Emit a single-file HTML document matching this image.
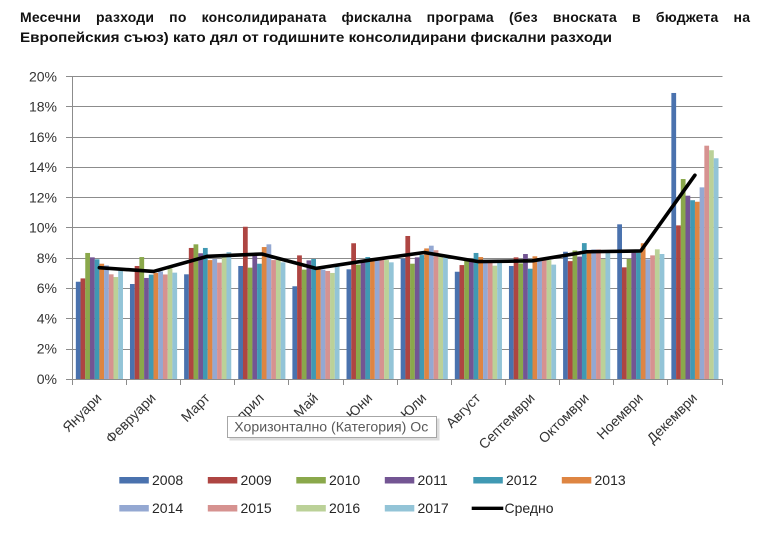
<!DOCTYPE html>
<html>
<head>
<meta charset="utf-8">
<style>
html,body{margin:0;padding:0;background:#fff;}
svg{display:block;}
.a{fill:#4A72AE}.b{fill:#AE4542}.c{fill:#8AA84B}.d{fill:#735593}.e{fill:#4099B3}
.f{fill:#DE8542}.g{fill:#94A8D2}.h{fill:#D69290}.i{fill:#BBD198}.j{fill:#93C4D7}
text{font-family:"Liberation Sans","DejaVu Sans",sans-serif;}
.ax{font-size:14px;fill:#333;}
.lg{font-size:14px;fill:#262626;}
</style>
</head>
<body>
<svg width="768" height="537" viewBox="0 0 768 537" xmlns="http://www.w3.org/2000/svg">
<rect x="0" y="0" width="768" height="537" fill="#fff"/>
<!-- Title -->
<text x="20" y="22" font-size="14" font-weight="bold" fill="#111" word-spacing="11" textLength="730" lengthAdjust="spacing">Месечни разходи по консолидираната фискална програма (без вноската в бюджета на</text>
<text x="20" y="42" font-size="14" font-weight="bold" fill="#111" textLength="592" lengthAdjust="spacingAndGlyphs">Европейския съюз) като дял от годишните консолидирани фискални разходи</text>

<!-- Gridlines -->
<g stroke="#8c8c8c" stroke-width="1" shape-rendering="crispEdges">
<line x1="66" y1="76.5" x2="722.5" y2="76.5"/>
<line x1="66" y1="106.5" x2="722.5" y2="106.5"/>
<line x1="66" y1="137.5" x2="722.5" y2="137.5"/>
<line x1="66" y1="167.5" x2="722.5" y2="167.5"/>
<line x1="66" y1="197.5" x2="722.5" y2="197.5"/>
<line x1="66" y1="227.5" x2="722.5" y2="227.5"/>
<line x1="66" y1="258.5" x2="722.5" y2="258.5"/>
<line x1="66" y1="288.5" x2="722.5" y2="288.5"/>
<line x1="66" y1="318.5" x2="722.5" y2="318.5"/>
<line x1="66" y1="349.5" x2="722.5" y2="349.5"/>
</g>

<!-- Y labels -->
<g class="ax" text-anchor="end">
<text x="57" y="81.5">20%</text>
<text x="57" y="111.5">18%</text>
<text x="57" y="142">16%</text>
<text x="57" y="172">14%</text>
<text x="57" y="202.5">12%</text>
<text x="57" y="232.5">10%</text>
<text x="57" y="263">8%</text>
<text x="57" y="293">6%</text>
<text x="57" y="323.5">4%</text>
<text x="57" y="353.5">2%</text>
<text x="57" y="384">0%</text>
</g>

<!-- Bars -->
<g transform="translate(75.83,379) scale(1,-15.15)">
<rect class="a" x="0" y="0" width="4.76" height="6.42"/><rect class="b" x="4.71" y="0" width="4.76" height="6.64"/><rect class="c" x="9.42" y="0" width="4.76" height="8.32"/><rect class="d" x="14.13" y="0" width="4.76" height="8.03"/><rect class="e" x="18.84" y="0" width="4.76" height="7.9"/><rect class="f" x="23.55" y="0" width="4.76" height="7.61"/><rect class="g" x="28.26" y="0" width="4.76" height="7.5"/><rect class="h" x="32.97" y="0" width="4.76" height="6.91"/><rect class="i" x="37.68" y="0" width="4.76" height="6.73"/><rect class="j" x="42.39" y="0" width="4.76" height="7.15"/>
</g>
<g transform="translate(129.97,379) scale(1,-15.15)">
<rect class="a" x="0" y="0" width="4.76" height="6.27"/><rect class="b" x="4.71" y="0" width="4.76" height="7.46"/><rect class="c" x="9.42" y="0" width="4.76" height="8.05"/><rect class="d" x="14.13" y="0" width="4.76" height="6.67"/><rect class="e" x="18.84" y="0" width="4.76" height="6.89"/><rect class="f" x="23.55" y="0" width="4.76" height="7.0"/><rect class="g" x="28.26" y="0" width="4.76" height="7.1"/><rect class="h" x="32.97" y="0" width="4.76" height="6.9"/><rect class="i" x="37.68" y="0" width="4.76" height="7.3"/><rect class="j" x="42.39" y="0" width="4.76" height="7.02"/>
</g>
<g transform="translate(184.11,379) scale(1,-15.15)">
<rect class="a" x="0" y="0" width="4.76" height="6.91"/><rect class="b" x="4.71" y="0" width="4.76" height="8.65"/><rect class="c" x="9.42" y="0" width="4.76" height="8.89"/><rect class="d" x="14.13" y="0" width="4.76" height="8.3"/><rect class="e" x="18.84" y="0" width="4.76" height="8.65"/><rect class="f" x="23.55" y="0" width="4.76" height="7.85"/><rect class="g" x="28.26" y="0" width="4.76" height="7.92"/><rect class="h" x="32.97" y="0" width="4.76" height="7.68"/><rect class="i" x="37.68" y="0" width="4.76" height="8.07"/><rect class="j" x="42.39" y="0" width="4.76" height="8.38"/>
</g>
<g transform="translate(238.25,379) scale(1,-15.15)">
<rect class="a" x="0" y="0" width="4.76" height="7.46"/><rect class="b" x="4.71" y="0" width="4.76" height="10.05"/><rect class="c" x="9.42" y="0" width="4.76" height="7.35"/><rect class="d" x="14.13" y="0" width="4.76" height="8.3"/><rect class="e" x="18.84" y="0" width="4.76" height="7.61"/><rect class="f" x="23.55" y="0" width="4.76" height="8.71"/><rect class="g" x="28.26" y="0" width="4.76" height="8.89"/><rect class="h" x="32.97" y="0" width="4.76" height="7.85"/><rect class="i" x="37.68" y="0" width="4.76" height="7.97"/><rect class="j" x="42.39" y="0" width="4.76" height="7.7"/>
</g>
<g transform="translate(292.39,379) scale(1,-15.15)">
<rect class="a" x="0" y="0" width="4.76" height="6.12"/><rect class="b" x="4.71" y="0" width="4.76" height="8.16"/><rect class="c" x="9.42" y="0" width="4.76" height="7.22"/><rect class="d" x="14.13" y="0" width="4.76" height="7.83"/><rect class="e" x="18.84" y="0" width="4.76" height="7.92"/><rect class="f" x="23.55" y="0" width="4.76" height="7.26"/><rect class="g" x="28.26" y="0" width="4.76" height="7.22"/><rect class="h" x="32.97" y="0" width="4.76" height="7.13"/><rect class="i" x="37.68" y="0" width="4.76" height="7.0"/><rect class="j" x="42.39" y="0" width="4.76" height="7.44"/>
</g>
<g transform="translate(346.53,379) scale(1,-15.15)">
<rect class="a" x="0" y="0" width="4.76" height="7.24"/><rect class="b" x="4.71" y="0" width="4.76" height="8.96"/><rect class="c" x="9.42" y="0" width="4.76" height="7.55"/><rect class="d" x="14.13" y="0" width="4.76" height="7.79"/><rect class="e" x="18.84" y="0" width="4.76" height="8.05"/><rect class="f" x="23.55" y="0" width="4.76" height="7.9"/><rect class="g" x="28.26" y="0" width="4.76" height="7.9"/><rect class="h" x="32.97" y="0" width="4.76" height="7.9"/><rect class="i" x="37.68" y="0" width="4.76" height="7.85"/><rect class="j" x="42.39" y="0" width="4.76" height="7.7"/>
</g>
<g transform="translate(400.67,379) scale(1,-15.15)">
<rect class="a" x="0" y="0" width="4.76" height="7.94"/><rect class="b" x="4.71" y="0" width="4.76" height="9.44"/><rect class="c" x="9.42" y="0" width="4.76" height="7.61"/><rect class="d" x="14.13" y="0" width="4.76" height="8.03"/><rect class="e" x="18.84" y="0" width="4.76" height="8.18"/><rect class="f" x="23.55" y="0" width="4.76" height="8.62"/><rect class="g" x="28.26" y="0" width="4.76" height="8.8"/><rect class="h" x="32.97" y="0" width="4.76" height="8.5"/><rect class="i" x="37.68" y="0" width="4.76" height="8.1"/><rect class="j" x="42.39" y="0" width="4.76" height="8.0"/>
</g>
<g transform="translate(454.81,379) scale(1,-15.15)">
<rect class="a" x="0" y="0" width="4.76" height="7.08"/><rect class="b" x="4.71" y="0" width="4.76" height="7.52"/><rect class="c" x="9.42" y="0" width="4.76" height="7.81"/><rect class="d" x="14.13" y="0" width="4.76" height="7.9"/><rect class="e" x="18.84" y="0" width="4.76" height="8.32"/><rect class="f" x="23.55" y="0" width="4.76" height="8.05"/><rect class="g" x="28.26" y="0" width="4.76" height="7.74"/><rect class="h" x="32.97" y="0" width="4.76" height="7.74"/><rect class="i" x="37.68" y="0" width="4.76" height="7.48"/><rect class="j" x="42.39" y="0" width="4.76" height="7.74"/>
</g>
<g transform="translate(508.95,379) scale(1,-15.15)">
<rect class="a" x="0" y="0" width="4.76" height="7.46"/><rect class="b" x="4.71" y="0" width="4.76" height="8.03"/><rect class="c" x="9.42" y="0" width="4.76" height="7.63"/><rect class="d" x="14.13" y="0" width="4.76" height="8.25"/><rect class="e" x="18.84" y="0" width="4.76" height="7.28"/><rect class="f" x="23.55" y="0" width="4.76" height="8.1"/><rect class="g" x="28.26" y="0" width="4.76" height="7.85"/><rect class="h" x="32.97" y="0" width="4.76" height="7.9"/><rect class="i" x="37.68" y="0" width="4.76" height="7.85"/><rect class="j" x="42.39" y="0" width="4.76" height="7.55"/>
</g>
<g transform="translate(563.09,379) scale(1,-15.15)">
<rect class="a" x="0" y="0" width="4.76" height="8.4"/><rect class="b" x="4.71" y="0" width="4.76" height="7.78"/><rect class="c" x="9.42" y="0" width="4.76" height="8.48"/><rect class="d" x="14.13" y="0" width="4.76" height="8.08"/><rect class="e" x="18.84" y="0" width="4.76" height="8.97"/><rect class="f" x="23.55" y="0" width="4.76" height="8.5"/><rect class="g" x="28.26" y="0" width="4.76" height="8.55"/><rect class="h" x="32.97" y="0" width="4.76" height="8.55"/><rect class="i" x="37.68" y="0" width="4.76" height="7.92"/><rect class="j" x="42.39" y="0" width="4.76" height="8.4"/>
</g>
<g transform="translate(617.23,379) scale(1,-15.15)">
<rect class="a" x="0" y="0" width="4.76" height="10.21"/><rect class="b" x="4.71" y="0" width="4.76" height="7.37"/><rect class="c" x="9.42" y="0" width="4.76" height="7.92"/><rect class="d" x="14.13" y="0" width="4.76" height="8.34"/><rect class="e" x="18.84" y="0" width="4.76" height="8.34"/><rect class="f" x="23.55" y="0" width="4.76" height="8.96"/><rect class="g" x="28.26" y="0" width="4.76" height="7.9"/><rect class="h" x="32.97" y="0" width="4.76" height="8.16"/><rect class="i" x="37.68" y="0" width="4.76" height="8.56"/><rect class="j" x="42.39" y="0" width="4.76" height="8.25"/>
</g>
<g transform="translate(671.37,379) scale(1,-15.15)">
<rect class="a" x="0" y="0" width="4.76" height="18.88"/><rect class="b" x="4.71" y="0" width="4.76" height="10.14"/><rect class="c" x="9.42" y="0" width="4.76" height="13.2"/><rect class="d" x="14.13" y="0" width="4.76" height="12.1"/><rect class="e" x="18.84" y="0" width="4.76" height="11.8"/><rect class="f" x="23.55" y="0" width="4.76" height="11.7"/><rect class="g" x="28.26" y="0" width="4.76" height="12.65"/><rect class="h" x="32.97" y="0" width="4.76" height="15.4"/><rect class="i" x="37.68" y="0" width="4.76" height="15.1"/><rect class="j" x="42.39" y="0" width="4.76" height="14.57"/>
</g>

<!-- Axes -->
<g stroke="#8c8c8c" stroke-width="1" shape-rendering="crispEdges">
<line x1="72.5" y1="76" x2="72.5" y2="380"/>
<line x1="66" y1="379.5" x2="722.5" y2="379.5"/>
<line x1="72.5" y1="379" x2="72.5" y2="385"/>
<line x1="126.5" y1="379" x2="126.5" y2="385"/>
<line x1="180.5" y1="379" x2="180.5" y2="385"/>
<line x1="234.5" y1="379" x2="234.5" y2="385"/>
<line x1="288.5" y1="379" x2="288.5" y2="385"/>
<line x1="343.5" y1="379" x2="343.5" y2="385"/>
<line x1="397.5" y1="379" x2="397.5" y2="385"/>
<line x1="451.5" y1="379" x2="451.5" y2="385"/>
<line x1="505.5" y1="379" x2="505.5" y2="385"/>
<line x1="559.5" y1="379" x2="559.5" y2="385"/>
<line x1="613.5" y1="379" x2="613.5" y2="385"/>
<line x1="667.5" y1="379" x2="667.5" y2="385"/>
<line x1="722.5" y1="379" x2="722.5" y2="385"/>
</g>

<!-- Average line -->
<polyline fill="none" stroke="#000" stroke-width="3.6" stroke-linejoin="round" stroke-linecap="round"
points="99.37,267.65 153.51,271.43 207.65,256.28 261.79,254.01 315.93,268.4 370.07,260.07 424.21,252.5 478.35,261.59 532.49,260.83 586.63,251.74 640.77,250.98 694.91,175.23"/>

<!-- X labels -->
<g class="ax" text-anchor="end">
<text transform="translate(102.4,399) rotate(-45)">Януари</text>
<text transform="translate(156.5,399) rotate(-45)">Февруари</text>
<text transform="translate(210.6,399) rotate(-45)">Март</text>
<text transform="translate(264.8,399) rotate(-45)">Април</text>
<text transform="translate(318.9,399) rotate(-45)">Май</text>
<text transform="translate(373.1,399) rotate(-45)">Юни</text>
<text transform="translate(427.2,399) rotate(-45)">Юли</text>
<text transform="translate(481.4,399) rotate(-45)">Август</text>
<text transform="translate(535.5,399) rotate(-45)">Септември</text>
<text transform="translate(589.6,399) rotate(-45)">Октомври</text>
<text transform="translate(643.8,399) rotate(-45)">Ноември</text>
<text transform="translate(697.9,399) rotate(-45)">Декември</text>
</g>

<!-- Tooltip -->
<rect x="229.5" y="418.5" width="210" height="22" fill="#cfcfcf" opacity="0.7"/>
<rect x="227.5" y="416.5" width="209" height="21" fill="#fff" stroke="#a6a6a6" stroke-width="1"/>
<text x="234.3" y="431.5" font-size="13.5" fill="#595959" textLength="194" lengthAdjust="spacingAndGlyphs">Хоризонтално (Категория) Ос</text>

<!-- Legend -->
<g>
<rect class="a" x="119.3" y="477" width="29.5" height="6.5"/>
<rect class="b" x="207.8" y="477" width="29.5" height="6.5"/>
<rect class="c" x="296.3" y="477" width="29.5" height="6.5"/>
<rect class="d" x="384.8" y="477" width="29.5" height="6.5"/>
<rect class="e" x="473.3" y="477" width="29.5" height="6.5"/>
<rect class="f" x="561.8" y="477" width="29.5" height="6.5"/>
<rect class="g" x="119.3" y="505" width="29.5" height="6.5"/>
<rect class="h" x="207.8" y="505" width="29.5" height="6.5"/>
<rect class="i" x="296.3" y="505" width="29.5" height="6.5"/>
<rect class="j" x="384.8" y="505" width="29.5" height="6.5"/>
<line x1="471.7" y1="508.3" x2="503.3" y2="508.3" stroke="#000" stroke-width="3.4"/>
</g>
<g class="lg">
<text x="152" y="485">2008</text>
<text x="240.5" y="485">2009</text>
<text x="329" y="485">2010</text>
<text x="417.5" y="485">2011</text>
<text x="506" y="485">2012</text>
<text x="594.5" y="485">2013</text>
<text x="152" y="513">2014</text>
<text x="240.5" y="513">2015</text>
<text x="329" y="513">2016</text>
<text x="417.5" y="513">2017</text>
<text x="504.5" y="513">Средно</text>
</g>
</svg>
</body>
</html>
